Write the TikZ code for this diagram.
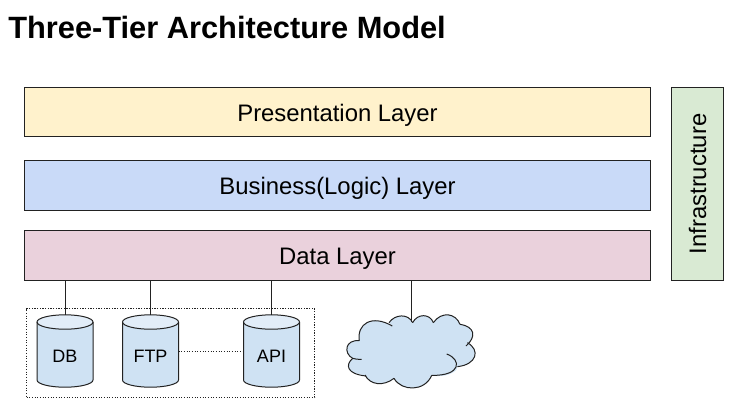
\documentclass[tikz,border=0pt]{standalone}
\usepackage{fontspec}
\setmainfont{Liberation Sans}
\definecolor{ink}{HTML}{222222}
\definecolor{yel}{HTML}{FFF2CC}
\definecolor{blu}{HTML}{C9DAF8}
\definecolor{pnk}{HTML}{EAD1DC}
\definecolor{grn}{HTML}{D9EAD3}
\definecolor{cyl}{HTML}{CFE2F3}
\definecolor{cyltop}{HTML}{E2EDF8}
\tikzset{
  layerbox/.style={draw=ink,line width=0.75pt,inner sep=0pt,font=\fontsize{17.9pt}{20pt}\selectfont,text=black,text height=14pt,text depth=0pt},
  smalltext/.style={font=\fontsize{13.5pt}{16pt}\selectfont,text=black,inner sep=0pt},
  link/.style={draw=ink,line width=0.75pt},
  dotline/.style={draw=ink,line width=0.6pt,dash pattern=on 0.8pt off 1.2pt},
  cylline/.style={draw=ink,line width=0.75pt}
}
\newcommand{\mycyl}[3]{% x-left, name, label
  \fill[cyl] (#1,322) -- (#1,380) arc[start angle=180,end angle=0,x radius=28,y radius=7.2] -- (#1+56,322) -- cycle;
  \fill[cyltop] (#1+28,322) ellipse[x radius=28,y radius=7.2];
  \draw[cylline] (#1,322) -- (#1,380) arc[start angle=180,end angle=0,x radius=28,y radius=7.2] -- (#1+56,322);
  \draw[cylline] (#1+28,322) ellipse[x radius=28,y radius=7.2];
  \coordinate (#2top) at (#1+28,315);
  \coordinate (#2l) at (#1,351.5);
  \coordinate (#2r) at (#1+56,351.5);
  \node[smalltext,anchor=base] (#2) at (#1+28,362) {#3};
}
\begin{document}
\begin{tikzpicture}[x=0.75pt,y=-0.75pt]
\useasboundingbox (0,0) rectangle (743,415);
\node[anchor=base west,inner sep=0pt,font=\fontsize{23.1pt}{26pt}\selectfont\bfseries] (title) at (8,38) {Three-Tier Architecture Model};
\node[layerbox,fill=yel,minimum width=469.5pt,minimum height=37.1pt] (pres) at (337.5,112.2) {Presentation Layer};
\node[layerbox,fill=blu,minimum width=469.5pt,minimum height=37.5pt] (biz) at (337.5,185.5) {Business(Logic) Layer};
\node[layerbox,fill=pnk,minimum width=469.5pt,minimum height=37.5pt] (data) at (337.5,255.5) {Data Layer};
\node[draw=ink,line width=0.75pt,inner sep=0pt,fill=grn,minimum width=39pt,minimum height=144.75pt] (infra) at (697.5,184) {};
\node[rotate=90,font=\fontsize{17.9pt}{20pt}\selectfont,inner sep=0pt] (infratext) at (697.5,184) {Infrastructure};
\node[dotline,draw,minimum width=216pt,minimum height=66.75pt,inner sep=0pt] (group) at (170.5,353) {};
\mycyl{37}{db}{DB}
\mycyl{122.5}{ftp}{FTP}
\mycyl{243.5}{api}{API}
\draw[link] (data.south -| dbtop) -- (dbtop);
\draw[link] (data.south -| ftptop) -- (ftptop);
\draw[link] (data.south -| apitop) -- (apitop);
\draw[dotline] (ftpr) -- (apil);
% cloud
\begin{scope}[shift={(330,270)},x=0.25pt,y=-0.25pt]
\fill[cyl] (88,212) .. controls (80,162) and (125,132) .. (187,168)
 -- (177,158) .. controls (195,132) and (235,130) .. (248,158)
 .. controls (262,130) and (300,130) .. (310,158)
 .. controls (335,122) and (378,130) .. (390,163)
 .. controls (435,170) and (440,200) .. (408,228)
 -- (412,218) .. controls (452,240) and (440,284) .. (382,290)
 .. controls (385,305) and (345,325) .. (305,316)
 .. controls (285,365) and (215,365) .. (192,325)
 .. controls (160,350) and (120,345) .. (105,315)
 .. controls (50,312) and (45,285) .. (68,265)
 .. controls (40,250) and (45,208) .. (88,212) -- cycle;
\coordinate (cloudtop) at (245,155);
\draw[cylline] (88,212) .. controls (80,162) and (125,132) .. (187,168);
\draw[cylline] (177,158) .. controls (195,132) and (235,130) .. (248,158);
\draw[cylline] (248,158) .. controls (262,130) and (300,130) .. (310,158);
\draw[cylline] (310,158) .. controls (335,122) and (378,130) .. (390,163);
\draw[cylline] (390,163) .. controls (435,170) and (440,200) .. (408,228);
\draw[cylline] (412,218) .. controls (452,240) and (440,284) .. (382,290);
\draw[cylline] (350,252) .. controls (395,268) and (395,318) .. (305,316);
\draw[cylline] (305,316) .. controls (285,365) and (215,365) .. (192,325);
\draw[cylline] (192,325) .. controls (160,350) and (120,345) .. (105,315);
\draw[cylline] (108,318) .. controls (50,312) and (45,285) .. (68,265) .. controls (75,268) and (85,268) .. (95,268);
\draw[cylline] (68,265) .. controls (40,250) and (45,208) .. (88,212);
\end{scope}
\draw[link] (data.south -| cloudtop) -- (cloudtop);
\end{tikzpicture}
\end{document}
